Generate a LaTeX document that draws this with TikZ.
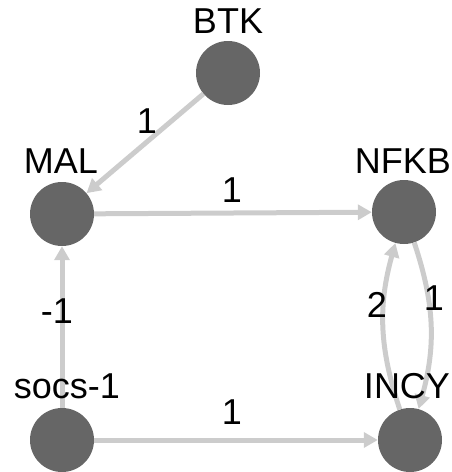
\documentclass[tikz,border=0pt]{standalone}
\usepackage{fontspec}
\setmainfont{Liberation Sans}
\usetikzlibrary{arrows.meta}
\definecolor{nodegray}{HTML}{666666}
\definecolor{edgegray}{HTML}{CCCCCC}
\begin{document}
\begin{tikzpicture}[x=1pt,y=-1pt,
  gene/.style={circle,fill=nodegray,draw=none,minimum size=64pt,inner sep=0pt},
  namelbl/.style={font=\fontsize{36}{36}\selectfont,text=black,inner sep=0pt},
  wlbl/.style={font=\fontsize{36}{36}\selectfont,text=black,inner sep=0pt},
  link/.style={draw=edgegray,line width=5pt,-{Triangle[length=14pt,width=15pt]}}]
\useasboundingbox (0,0) rectangle (451,472);
\node[gene] (BTK) at (228,73) {};
\node[gene] (MAL) at (62,214) {};
\node[gene] (NFKB) at (404,212) {};
\node[gene] (SOCS) at (62,440) {};
\node[gene] (INCY) at (410,440) {};
\draw[link] (BTK) -- (MAL);
\draw[link] (MAL) -- (NFKB);
\draw[link] (SOCS) -- (MAL);
\draw[link] (SOCS) -- (INCY);
\draw[link] (INCY) to[bend left=17] (NFKB);
\draw[link] (NFKB) to[bend left=17] (INCY);
\node[namelbl] (lBTK) at (228,21) {BTK};
\node[namelbl] (lMAL) at (61,161) {MAL};
\node[namelbl] (lNFKB) at (403,161) {NFKB};
\node[namelbl] (lSOCS) at (67,386) {socs-1};
\node[namelbl] (lINCY) at (407,386) {INCY};
\node[wlbl] (w1) at (147,121) {1};
\node[wlbl] (w2) at (232,190) {1};
\node[wlbl] (w3) at (57,311) {-1};
\node[wlbl] (w4) at (232,412) {1};
\node[wlbl] (w5) at (377,305) {2};
\node[wlbl] (w6) at (434,298) {1};
\end{tikzpicture}
\end{document}
